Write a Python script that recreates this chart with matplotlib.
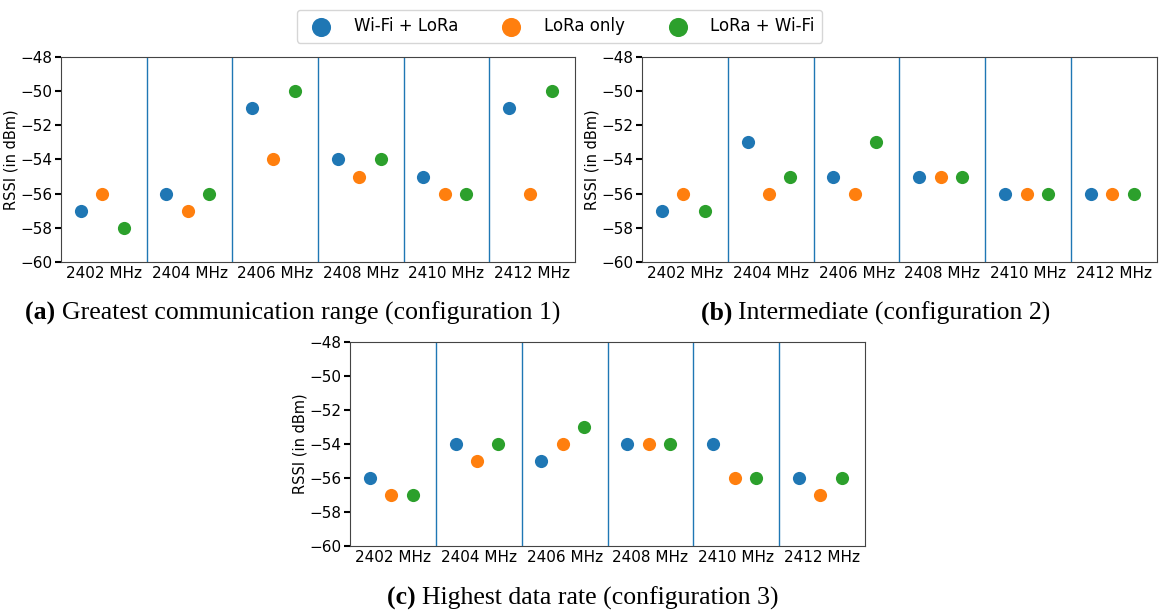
import numpy as np
import matplotlib
matplotlib.use('Agg')
import matplotlib.pyplot as plt

# channels on the x axis
channels = ['2402 MHz', '2404 MHz', '2406 MHz', '2408 MHz', '2410 MHz', '2412 MHz']
series_names = ['Wi-Fi + LoRa', 'LoRa only', 'LoRa + Wi-Fi']
colors = ['tab:blue', 'tab:orange', 'tab:green']

# RSSI values (dBm) per configuration
cfg1_wifi_lora = [-57, -56, -51, -54, -55, -51]
cfg1_lora_only = [-56, -57, -54, -55, -56, -56]
cfg1_lora_wifi = [-58, -56, -50, -54, -56, -50]

cfg2_wifi_lora = [-57, -53, -55, -55, -56, -56]
cfg2_lora_only = [-56, -56, -56, -55, -56, -56]
cfg2_lora_wifi = [-57, -55, -53, -55, -56, -56]

cfg3_wifi_lora = [-56, -54, -55, -54, -54, -56]
cfg3_lora_only = [-57, -55, -54, -54, -56, -57]
cfg3_lora_wifi = [-57, -54, -53, -54, -56, -56]

captions = [('(a)', 'Greatest communication range (configuration 1)'),
            ('(b)', 'Intermediate (configuration 2)'),
            ('(c)', 'Highest data rate (configuration 3)')]

fig = plt.figure(figsize=(11.61, 6.15), dpi=100)
W, H = 1161, 615
# axes boxes in pixels: left, top, right, bottom
boxes = [(61, 57, 575, 262), (642, 57, 1157, 262), (350, 342, 865, 546)]
cap_pos = [(292, 313), (875, 313), (583, 598)]
data = [[cfg1_wifi_lora, cfg1_lora_only, cfg1_lora_wifi],
        [cfg2_wifi_lora, cfg2_lora_only, cfg2_lora_wifi],
        [cfg3_wifi_lora, cfg3_lora_only, cfg3_lora_wifi]]
offsets = [-0.27, -0.02, 0.23]
cap_font = dict(fontsize=18.5, family='Liberation Serif')

x = np.arange(len(channels))
handles = []
for k, (l, t, r, b) in enumerate(boxes):
    ax = fig.add_axes([l / W, 1 - b / H, (r - l) / W, (b - t) / H])
    for s in range(3):
        h = ax.scatter(x + offsets[s], data[k][s], s=90, color=colors[s],
                       label=series_names[s], zorder=3, linewidths=0)
        if k == 0:
            handles.append(h)
    for i in range(1, len(channels)):
        ax.axvline(i - 0.5, color='tab:blue', lw=1)
    ax.set_xlim(-0.5, len(channels) - 0.5)
    ax.set_ylim(-60, -48)
    ax.set_yticks(np.arange(-60, -47, 2))
    ax.set_xticks(x)
    ax.set_xticklabels(channels, fontsize=11)
    ax.tick_params(axis='x', length=0, pad=3)
    ax.tick_params(axis='y', labelsize=11, length=4, width=1.5, pad=2)
    ax.set_ylabel('RSSI (in dBm)', fontsize=10.5)
    ax.yaxis.set_label_coords(-42 / (r - l), 0.5)
    for sp in ax.spines.values():
        sp.set_color('#444444')

    # caption: bold tag + normal text, centred as a whole
    cx, cy = cap_pos[k]
    tag, txt = captions[k]
    t1 = fig.text(cx / W, 1 - cy / H, tag + ' ' + txt, ha='center', va='center',
                  alpha=0, **cap_font)
    fig.canvas.draw()
    bb = t1.get_window_extent()
    t1.remove()
    ta = fig.text(bb.x0 / W, 1 - cy / H, tag + ' ', ha='left', va='center',
                  weight='bold', **cap_font)
    fig.canvas.draw()
    bba = ta.get_window_extent()
    fig.text(bba.x1 / W, 1 - cy / H, txt, ha='left', va='center', **cap_font)

fig.legend(handles=handles, labels=series_names, loc='upper center',
           bbox_to_anchor=(0.482, 0.998), ncol=3, fontsize=12,
           markerscale=1.45, columnspacing=2.2, handletextpad=0.95,
           borderpad=0.45, frameon=True)

fig.savefig('out.png', dpi=100)
